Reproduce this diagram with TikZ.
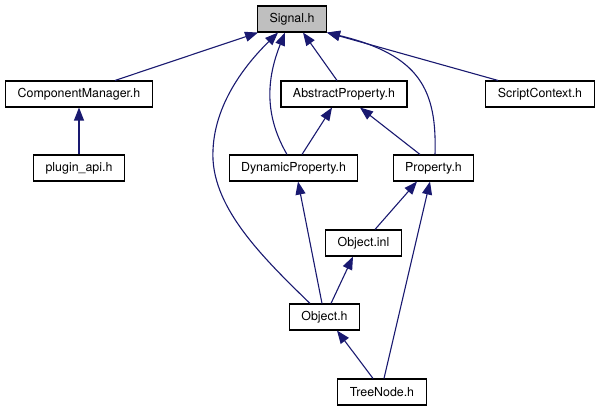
\documentclass[tikz,border=0pt]{standalone}
\usepackage{fontspec}
\setmainfont{TeX Gyre Heros}
\usepackage{tikz}
\usetikzlibrary{arrows.meta}
\definecolor{edgeblue}{HTML}{191970}
\definecolor{rootgray}{HTML}{BFBFBF}
\tikzset{
    filebox/.style={draw=black, fill=white, line width=1.1pt, minimum height=26pt,
        inner xsep=12pt, inner ysep=0pt, font=\fontsize{12.4}{14}\selectfont},
    incl/.style={draw=edgeblue, line width=1.1pt, -{Triangle[length=13pt, width=10pt]}}
}

\begin{document}
\begin{tikzpicture}[x=1pt, y=-1pt]
        \useasboundingbox (0,0) rectangle (601,411);

        \node[filebox, fill=rootgray] (signal) at (292,19) {Signal.h};
        \node[filebox] (compmgr) at (79,94) {ComponentManager.h};
        \node[filebox] (absprop) at (344,94) {AbstractProperty.h};
        \node[filebox] (script) at (540,94) {ScriptContext.h};
        \node[filebox] (plugin) at (79,168) {plugin\_api.h};
        \node[filebox] (dynprop) at (293.5,168) {DynamicProperty.h};
        \node[filebox] (prop) at (433.5,168) {Property.h};
        \node[filebox] (objinl) at (363.5,243) {Object.inl};
        \node[filebox] (objh) at (324.5,317) {Object.h};
        \node[filebox] (tree) at (382,392) {TreeNode.h};

        \coordinate (bend) at (213,150);

        % includes of Signal.h
        \draw[incl] ([xshift=36pt]compmgr.north) -- ([xshift=1pt]signal.south west);
        \draw[incl] ([xshift=-7pt]absprop.north) -- ([xshift=11pt]signal.south);
        \draw[incl] ([xshift=-42pt]script.north) -- (signal.south east);
        \draw[incl] ([xshift=1.5pt]prop.north) .. controls (437,90) and (420,55) .. (signal.south east);
        \draw[incl] ([xshift=-6.5pt]dynprop.north) .. controls (270,125) and (262,90) .. ([xshift=-7pt]signal.south);
        \draw[incl] ([xshift=-14.5pt]objh.north) .. controls (260,255) and (210,205) .. (bend)
            .. controls (215,100) and (250,60) .. ([xshift=-14pt]signal.south);

        % the rest
        \draw[incl] (plugin) -- (compmgr);
        \draw[incl] ([xshift=8.5pt]dynprop.north) -- ([xshift=-12pt]absprop.south);
        \draw[incl] ([xshift=-13.5pt]prop.north) -- ([xshift=16pt]absprop.south);
        \draw[incl] ([xshift=11.5pt]objinl.north) -- ([xshift=-16.5pt]prop.south);
        \draw[incl] ([xshift=2pt]tree.north) -- ([xshift=-3.5pt]prop.south);
        \draw[incl] ([xshift=-2.5pt]objh.north) -- ([xshift=4.5pt]dynprop.south);
        \draw[incl] ([xshift=6.5pt]objh.north) -- ([xshift=-10.5pt]objinl.south);
        \draw[incl] ([xshift=-9pt]tree.north) -- ([xshift=12.5pt]objh.south);
    \end{tikzpicture}
\end{document}
